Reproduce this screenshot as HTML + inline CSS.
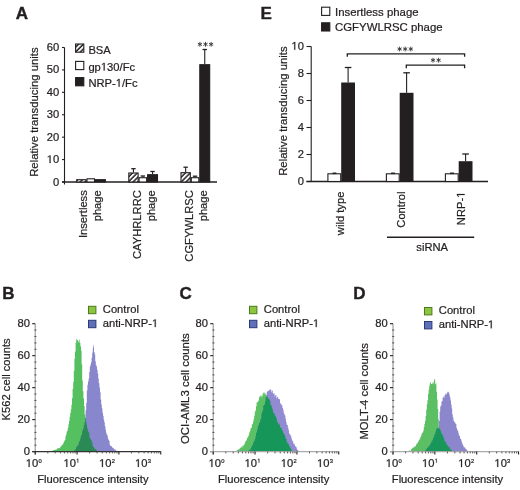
<!DOCTYPE html>
<html><head><meta charset="utf-8"><style>
html,body{margin:0;padding:0;background:#fff;}
svg{display:block;will-change:transform;}
text{font-family:"Liberation Sans",sans-serif;fill:#231f20;stroke:#231f20;stroke-width:0.22px;}
text[font-weight=bold]{stroke-width:0.4px;}
.o1{fill-opacity:0;stroke-opacity:0;}
</style></head><body>
<svg width="520" height="490" viewBox="0 0 520 490">
<defs>
<pattern id="hatch" patternUnits="userSpaceOnUse" width="3.4" height="3.4" patternTransform="rotate(45)">
<rect width="3.4" height="3.4" fill="#fff"/><rect x="1.08" width="1.5" height="3.4" fill="#231f20"/>
</pattern>
</defs>
<rect width="520" height="490" fill="#fff"/>
<text x="15.8" y="19" font-size="17" text-anchor="start" font-weight="bold">A</text>
<line x1="64.5" y1="47.5" x2="64.5" y2="184.5" stroke="#231f20" stroke-width="1.1"/>
<line x1="62" y1="182.0" x2="217" y2="182.0" stroke="#231f20" stroke-width="1.4"/>
<line x1="62" y1="182.0" x2="64.5" y2="182.0" stroke="#231f20" stroke-width="1.1"/>
<text x="59.2" y="185.5" font-size="11.2" text-anchor="end">0</text>
<line x1="62" y1="159.58333333333334" x2="64.5" y2="159.58333333333334" stroke="#231f20" stroke-width="1.1"/>
<text x="59.2" y="163.08333333333334" font-size="11.2" text-anchor="end" class="h1"><tspan class="o1">1</tspan>0</text>
<line x1="62" y1="137.16666666666666" x2="64.5" y2="137.16666666666666" stroke="#231f20" stroke-width="1.1"/>
<text x="59.2" y="140.66666666666666" font-size="11.2" text-anchor="end">20</text>
<line x1="62" y1="114.75" x2="64.5" y2="114.75" stroke="#231f20" stroke-width="1.1"/>
<text x="59.2" y="118.25" font-size="11.2" text-anchor="end">30</text>
<line x1="62" y1="92.33333333333333" x2="64.5" y2="92.33333333333333" stroke="#231f20" stroke-width="1.1"/>
<text x="59.2" y="95.83333333333333" font-size="11.2" text-anchor="end">40</text>
<line x1="62" y1="69.91666666666667" x2="64.5" y2="69.91666666666667" stroke="#231f20" stroke-width="1.1"/>
<text x="59.2" y="73.41666666666667" font-size="11.2" text-anchor="end">50</text>
<line x1="62" y1="47.5" x2="64.5" y2="47.5" stroke="#231f20" stroke-width="1.1"/>
<text x="59.2" y="51.0" font-size="11.2" text-anchor="end">60</text>
<text x="38" y="176.8" font-size="11.3" text-anchor="start" transform="rotate(-90 38 176.8)">Relative transducing units</text>
<rect x="75.6" y="44.0" width="8.2" height="8.2" fill="url(#hatch)" stroke="#231f20" stroke-width="1.1"/>
<rect x="75.6" y="61.4" width="8.2" height="8.2" fill="#fff" stroke="#231f20" stroke-width="1.1"/>
<rect x="75.6" y="77.6" width="8.2" height="8.2" fill="#231f20" stroke="#231f20" stroke-width="1.1"/>
<text x="88.4" y="53.8" font-size="11.2" text-anchor="start">BSA</text>
<text x="88.4" y="70.6" font-size="11.2" text-anchor="start" class="h1">gp<tspan class="o1">1</tspan>30/Fc</text>
<text x="88.4" y="86.7" font-size="11.2" text-anchor="start" class="h1">NRP-<tspan class="o1">1</tspan>/Fc</text>
<rect x="76.7" y="179.7" width="9.3" height="2.3000000000000114" fill="url(#hatch)" stroke="#231f20" stroke-width="1.1"/>
<rect x="87.0" y="178.8" width="7.5" height="3.1999999999999886" fill="#fff" stroke="#231f20" stroke-width="1.1"/>
<rect x="95.5" y="179.7" width="9.9" height="2.3000000000000114" fill="#231f20" stroke="#231f20" stroke-width="1.1"/>
<line x1="133.45000000000002" y1="168.7" x2="133.45000000000002" y2="172.5" stroke="#231f20" stroke-width="1.1"/>
<line x1="131.25000000000003" y1="168.7" x2="135.65" y2="168.7" stroke="#231f20" stroke-width="1.3"/>
<rect x="128.8" y="173.0" width="9.3" height="9.0" fill="url(#hatch)" stroke="#231f20" stroke-width="1.1"/>
<line x1="142.85000000000002" y1="176.0" x2="142.85000000000002" y2="177.2" stroke="#231f20" stroke-width="1.1"/>
<line x1="140.65000000000003" y1="176.0" x2="145.05" y2="176.0" stroke="#231f20" stroke-width="1.3"/>
<rect x="139.10000000000002" y="177.7" width="7.5" height="4.300000000000011" fill="#fff" stroke="#231f20" stroke-width="1.1"/>
<line x1="152.55" y1="171.5" x2="152.55" y2="174.2" stroke="#231f20" stroke-width="1.1"/>
<line x1="150.35000000000002" y1="171.5" x2="154.75" y2="171.5" stroke="#231f20" stroke-width="1.3"/>
<rect x="147.60000000000002" y="174.7" width="9.9" height="7.300000000000011" fill="#231f20" stroke="#231f20" stroke-width="1.1"/>
<line x1="185.65" y1="167.2" x2="185.65" y2="172.2" stroke="#231f20" stroke-width="1.1"/>
<line x1="183.45000000000002" y1="167.2" x2="187.85" y2="167.2" stroke="#231f20" stroke-width="1.3"/>
<rect x="181.0" y="172.7" width="9.3" height="9.300000000000011" fill="url(#hatch)" stroke="#231f20" stroke-width="1.1"/>
<line x1="195.05" y1="176.2" x2="195.05" y2="177.2" stroke="#231f20" stroke-width="1.1"/>
<line x1="192.85000000000002" y1="176.2" x2="197.25" y2="176.2" stroke="#231f20" stroke-width="1.3"/>
<rect x="191.3" y="177.7" width="7.5" height="4.300000000000011" fill="#fff" stroke="#231f20" stroke-width="1.1"/>
<line x1="204.75" y1="49.5" x2="204.75" y2="64.2" stroke="#231f20" stroke-width="1.1"/>
<line x1="202.55" y1="49.5" x2="206.95" y2="49.5" stroke="#231f20" stroke-width="1.3"/>
<rect x="199.8" y="64.7" width="9.9" height="117.3" fill="#231f20" stroke="#231f20" stroke-width="1.1"/>
<path d="M199.90 41.90V46.70M197.82 43.10L201.98 45.50M197.82 45.50L201.98 43.10M205.50 41.90V46.70M203.42 43.10L207.58 45.50M203.42 45.50L207.58 43.10M211.10 41.90V46.70M209.02 43.10L213.18 45.50M209.02 45.50L213.18 43.10" stroke="#3a3a3a" stroke-width="0.95" fill="none"/>
<text x="86.6" y="190.2" font-size="11.2" text-anchor="end" transform="rotate(-90 86.6 190.2)">Insertless</text>
<text x="100.8" y="190.2" font-size="11.2" text-anchor="end" transform="rotate(-90 100.8 190.2)">phage</text>
<text x="140.6" y="190.2" font-size="11.2" text-anchor="end" transform="rotate(-90 140.6 190.2)">CAYHRLRRC</text>
<text x="154.9" y="190.2" font-size="11.2" text-anchor="end" transform="rotate(-90 154.9 190.2)">phage</text>
<text x="192.6" y="190.2" font-size="11.2" text-anchor="end" transform="rotate(-90 192.6 190.2)">CGFYWLRSC</text>
<text x="207.4" y="190.2" font-size="11.2" text-anchor="end" transform="rotate(-90 207.4 190.2)">phage</text>
<text x="260.6" y="19" font-size="17" text-anchor="start" font-weight="bold">E</text>
<rect x="321.6" y="7.2" width="8.2" height="8.2" fill="#fff" stroke="#231f20" stroke-width="1.1"/>
<rect x="321.6" y="22.8" width="8.2" height="8.2" fill="#231f20" stroke="#231f20" stroke-width="1.1"/>
<text x="335" y="15.8" font-size="11.4" text-anchor="start">Insertless phage</text>
<text x="335" y="31.0" font-size="11.4" text-anchor="start">CGFYWLRSC phage</text>
<line x1="311.2" y1="46.5" x2="311.2" y2="181.5" stroke="#231f20" stroke-width="1.1"/>
<line x1="306.5" y1="181.5" x2="488" y2="181.5" stroke="#231f20" stroke-width="1.4"/>
<line x1="306.5" y1="181.5" x2="311.2" y2="181.5" stroke="#231f20" stroke-width="1.1"/>
<text x="303.9" y="184.8" font-size="11.2" text-anchor="end">0</text>
<line x1="306.5" y1="154.5" x2="311.2" y2="154.5" stroke="#231f20" stroke-width="1.1"/>
<text x="303.9" y="157.8" font-size="11.2" text-anchor="end">2</text>
<line x1="306.5" y1="127.5" x2="311.2" y2="127.5" stroke="#231f20" stroke-width="1.1"/>
<text x="303.9" y="130.8" font-size="11.2" text-anchor="end">4</text>
<line x1="306.5" y1="100.5" x2="311.2" y2="100.5" stroke="#231f20" stroke-width="1.1"/>
<text x="303.9" y="103.8" font-size="11.2" text-anchor="end">6</text>
<line x1="306.5" y1="73.5" x2="311.2" y2="73.5" stroke="#231f20" stroke-width="1.1"/>
<text x="303.9" y="76.8" font-size="11.2" text-anchor="end">8</text>
<line x1="306.5" y1="46.5" x2="311.2" y2="46.5" stroke="#231f20" stroke-width="1.1"/>
<text x="303.9" y="49.8" font-size="11.2" text-anchor="end" class="h1"><tspan class="o1">1</tspan>0</text>
<text x="286.7" y="175.8" font-size="11.3" text-anchor="start" transform="rotate(-90 286.7 175.8)">Relative transducing units</text>
<rect x="327.90000000000003" y="173.8" width="12.8" height="7.699999999999989" fill="#fff" stroke="#231f20" stroke-width="1.1"/>
<line x1="332.6" y1="173.3" x2="336.40000000000003" y2="173.3" stroke="#231f20" stroke-width="1.6"/>
<line x1="348.09999999999997" y1="67.5" x2="348.09999999999997" y2="82.5" stroke="#231f20" stroke-width="1.1"/>
<line x1="344.79999999999995" y1="67.5" x2="351.4" y2="67.5" stroke="#231f20" stroke-width="1.3"/>
<rect x="341.2" y="82.5" width="13.8" height="99.0" fill="#231f20"/>
<rect x="386.40000000000003" y="173.8" width="12.8" height="7.699999999999989" fill="#fff" stroke="#231f20" stroke-width="1.1"/>
<line x1="391.1" y1="173.3" x2="394.90000000000003" y2="173.3" stroke="#231f20" stroke-width="1.6"/>
<line x1="406.59999999999997" y1="72.8" x2="406.59999999999997" y2="92.8" stroke="#231f20" stroke-width="1.1"/>
<line x1="403.29999999999995" y1="72.8" x2="409.9" y2="72.8" stroke="#231f20" stroke-width="1.3"/>
<rect x="399.7" y="92.8" width="13.8" height="88.7" fill="#231f20"/>
<rect x="445.40000000000003" y="173.8" width="12.8" height="7.699999999999989" fill="#fff" stroke="#231f20" stroke-width="1.1"/>
<line x1="450.1" y1="173.3" x2="453.90000000000003" y2="173.3" stroke="#231f20" stroke-width="1.6"/>
<line x1="465.59999999999997" y1="154.0" x2="465.59999999999997" y2="161.2" stroke="#231f20" stroke-width="1.1"/>
<line x1="462.29999999999995" y1="154.0" x2="468.9" y2="154.0" stroke="#231f20" stroke-width="1.3"/>
<rect x="458.7" y="161.2" width="13.8" height="20.30000000000001" fill="#231f20"/>
<path d="M347.3 56.8 V53.8 H464.6 V56.8" fill="none" stroke="#231f20" stroke-width="1.3"/>
<path d="M406.3 68.2 V65.2 H464.6 V68.2" fill="none" stroke="#231f20" stroke-width="1.3"/>
<path d="M399.60 46.60V51.40M397.52 47.80L401.68 50.20M397.52 50.20L401.68 47.80M405.20 46.60V51.40M403.12 47.80L407.28 50.20M403.12 50.20L407.28 47.80M410.80 46.60V51.40M408.72 47.80L412.88 50.20M408.72 50.20L412.88 47.80" stroke="#3a3a3a" stroke-width="0.95" fill="none"/>
<path d="M433.00 57.80V62.60M430.92 59.00L435.08 61.40M430.92 61.40L435.08 59.00M438.60 57.80V62.60M436.52 59.00L440.68 61.40M436.52 61.40L440.68 59.00" stroke="#3a3a3a" stroke-width="0.95" fill="none"/>
<text x="344.2" y="191.6" font-size="11.2" text-anchor="end" transform="rotate(-90 344.2 191.6)">wild type</text>
<text x="404.6" y="191.6" font-size="11.2" text-anchor="end" transform="rotate(-90 404.6 191.6)">Control</text>
<text x="464.6" y="191.6" font-size="11.2" text-anchor="end" transform="rotate(-90 464.6 191.6)" class="h1">NRP-<tspan class="o1">1</tspan></text>
<line x1="387" y1="237.2" x2="474.2" y2="237.2" stroke="#231f20" stroke-width="1.4"/>
<text x="416.3" y="250.5" font-size="11.2" text-anchor="start">siRNA</text>
<text x="2.2" y="299.2" font-size="17" text-anchor="start" font-weight="bold">B</text>
<line x1="35.2" y1="323.7" x2="35.2" y2="454.6" stroke="#8a8a8a" stroke-width="1"/>
<line x1="32.2" y1="451.6" x2="35.2" y2="451.6" stroke="#231f20" stroke-width="1.1"/>
<text x="30.000000000000004" y="455.0" font-size="11.2" text-anchor="end">0</text>
<line x1="32.2" y1="419.625" x2="35.2" y2="419.625" stroke="#231f20" stroke-width="1.1"/>
<text x="30.000000000000004" y="423.025" font-size="11.2" text-anchor="end">20</text>
<line x1="32.2" y1="387.65" x2="35.2" y2="387.65" stroke="#231f20" stroke-width="1.1"/>
<text x="30.000000000000004" y="391.04999999999995" font-size="11.2" text-anchor="end">40</text>
<line x1="32.2" y1="355.675" x2="35.2" y2="355.675" stroke="#231f20" stroke-width="1.1"/>
<text x="30.000000000000004" y="359.075" font-size="11.2" text-anchor="end">60</text>
<line x1="32.2" y1="323.7" x2="35.2" y2="323.7" stroke="#231f20" stroke-width="1.1"/>
<text x="30.000000000000004" y="327.09999999999997" font-size="11.2" text-anchor="end">80</text>
<line x1="34.400000000000006" y1="445.20500000000004" x2="36.400000000000006" y2="445.20500000000004" stroke="#555" stroke-width="1.1"/>
<line x1="34.400000000000006" y1="438.81" x2="36.400000000000006" y2="438.81" stroke="#555" stroke-width="1.1"/>
<line x1="34.400000000000006" y1="432.415" x2="36.400000000000006" y2="432.415" stroke="#555" stroke-width="1.1"/>
<line x1="34.400000000000006" y1="426.02000000000004" x2="36.400000000000006" y2="426.02000000000004" stroke="#555" stroke-width="1.1"/>
<line x1="34.400000000000006" y1="413.23" x2="36.400000000000006" y2="413.23" stroke="#555" stroke-width="1.1"/>
<line x1="34.400000000000006" y1="406.83500000000004" x2="36.400000000000006" y2="406.83500000000004" stroke="#555" stroke-width="1.1"/>
<line x1="34.400000000000006" y1="400.44" x2="36.400000000000006" y2="400.44" stroke="#555" stroke-width="1.1"/>
<line x1="34.400000000000006" y1="394.045" x2="36.400000000000006" y2="394.045" stroke="#555" stroke-width="1.1"/>
<line x1="34.400000000000006" y1="381.255" x2="36.400000000000006" y2="381.255" stroke="#555" stroke-width="1.1"/>
<line x1="34.400000000000006" y1="374.86" x2="36.400000000000006" y2="374.86" stroke="#555" stroke-width="1.1"/>
<line x1="34.400000000000006" y1="368.46500000000003" x2="36.400000000000006" y2="368.46500000000003" stroke="#555" stroke-width="1.1"/>
<line x1="34.400000000000006" y1="362.07" x2="36.400000000000006" y2="362.07" stroke="#555" stroke-width="1.1"/>
<line x1="34.400000000000006" y1="349.28" x2="36.400000000000006" y2="349.28" stroke="#555" stroke-width="1.1"/>
<line x1="34.400000000000006" y1="342.885" x2="36.400000000000006" y2="342.885" stroke="#555" stroke-width="1.1"/>
<line x1="34.400000000000006" y1="336.49" x2="36.400000000000006" y2="336.49" stroke="#555" stroke-width="1.1"/>
<line x1="34.400000000000006" y1="330.095" x2="36.400000000000006" y2="330.095" stroke="#555" stroke-width="1.1"/>
<clipPath id="clipB"><path d="M73.00 451.60 L73.00 451.36 L73.60 451.36 L73.60 450.79 L74.20 450.79 L74.20 450.30 L74.80 450.30 L74.80 449.70 L75.40 449.70 L75.40 449.30 L76.00 449.30 L76.00 447.39 L76.60 447.39 L76.60 446.46 L77.20 446.46 L77.20 445.60 L77.80 445.60 L77.80 445.68 L78.40 445.68 L78.40 443.58 L79.00 443.58 L79.00 441.27 L79.60 441.27 L79.60 441.35 L80.20 441.35 L80.20 438.45 L80.80 438.45 L80.80 435.62 L81.40 435.62 L81.40 435.31 L82.00 435.31 L82.00 431.43 L82.60 431.43 L82.60 429.88 L83.20 429.88 L83.20 428.13 L83.80 428.13 L83.80 425.30 L84.40 425.30 L84.40 422.58 L85.00 422.58 L85.00 418.38 L85.60 418.38 L85.60 410.35 L86.20 410.35 L86.20 403.09 L86.80 403.09 L86.80 390.59 L87.40 390.59 L87.40 384.85 L88.00 384.85 L88.00 381.46 L88.60 381.46 L88.60 378.62 L89.20 378.62 L89.20 372.10 L89.80 372.10 L89.80 366.63 L90.40 366.63 L90.40 364.40 L91.00 364.40 L91.00 362.18 L91.60 362.18 L91.60 357.74 L92.20 357.74 L92.20 352.77 L92.80 352.77 L92.80 347.67 L93.40 347.67 L93.40 345.34 L94.00 345.34 L94.00 352.03 L94.60 352.03 L94.60 354.24 L95.20 354.24 L95.20 361.15 L95.80 361.15 L95.80 364.98 L96.40 364.98 L96.40 366.48 L97.00 366.48 L97.00 369.85 L97.60 369.85 L97.60 373.58 L98.20 373.58 L98.20 378.38 L98.80 378.38 L98.80 383.14 L99.40 383.14 L99.40 387.56 L100.00 387.56 L100.00 392.27 L100.60 392.27 L100.60 399.42 L101.20 399.42 L101.20 404.61 L101.80 404.61 L101.80 408.18 L102.40 408.18 L102.40 412.75 L103.00 412.75 L103.00 415.84 L103.60 415.84 L103.60 419.56 L104.20 419.56 L104.20 422.30 L104.80 422.30 L104.80 425.97 L105.40 425.97 L105.40 429.69 L106.00 429.69 L106.00 432.68 L106.60 432.68 L106.60 434.52 L107.20 434.52 L107.20 435.80 L107.80 435.80 L107.80 438.61 L108.40 438.61 L108.40 440.04 L109.00 440.04 L109.00 441.00 L109.60 441.00 L109.60 444.84 L110.20 444.84 L110.20 445.67 L110.80 445.67 L110.80 446.00 L111.40 446.00 L111.40 446.54 L112.00 446.54 L112.00 447.21 L112.60 447.21 L112.60 448.05 L113.20 448.05 L113.20 448.29 L113.80 448.29 L113.80 449.02 L114.40 449.02 L114.40 449.83 L115.00 449.83 L115.00 449.59 L115.60 449.59 L115.60 450.29 L116.20 450.29 L116.20 450.70 L116.80 450.70 L116.80 450.86 L117.40 450.86 L117.40 451.11 L118.00 451.11 L118.00 451.32 L118.60 451.32 L118.60 451.52 L119.00 451.52 L119.00 451.60 Z"/></clipPath>
<path d="M48.00 451.60 L48.00 451.54 L48.60 451.54 L48.60 451.42 L49.20 451.42 L49.20 451.33 L49.80 451.33 L49.80 451.12 L50.40 451.12 L50.40 451.09 L51.00 451.09 L51.00 450.97 L51.60 450.97 L51.60 450.93 L52.20 450.93 L52.20 450.66 L52.80 450.66 L52.80 450.26 L53.40 450.26 L53.40 450.24 L54.00 450.24 L54.00 449.95 L54.60 449.95 L54.60 449.97 L55.20 449.97 L55.20 449.65 L55.80 449.65 L55.80 449.40 L56.40 449.40 L56.40 449.62 L57.00 449.62 L57.00 448.59 L57.60 448.59 L57.60 448.39 L58.20 448.39 L58.20 448.09 L58.80 448.09 L58.80 448.50 L59.40 448.50 L59.40 448.04 L60.00 448.04 L60.00 447.23 L60.60 447.23 L60.60 446.56 L61.20 446.56 L61.20 445.73 L61.80 445.73 L61.80 445.36 L62.40 445.36 L62.40 444.35 L63.00 444.35 L63.00 443.73 L63.60 443.73 L63.60 442.03 L64.20 442.03 L64.20 440.77 L64.80 440.77 L64.80 440.01 L65.40 440.01 L65.40 436.30 L66.00 436.30 L66.00 434.39 L66.60 434.39 L66.60 431.50 L67.20 431.50 L67.20 430.52 L67.80 430.52 L67.80 427.66 L68.40 427.66 L68.40 424.33 L69.00 424.33 L69.00 421.11 L69.60 421.11 L69.60 416.67 L70.20 416.67 L70.20 413.06 L70.80 413.06 L70.80 409.62 L71.40 409.62 L71.40 404.83 L72.00 404.83 L72.00 398.19 L72.60 398.19 L72.60 389.10 L73.20 389.10 L73.20 381.95 L73.80 381.95 L73.80 370.67 L74.40 370.67 L74.40 358.70 L75.00 358.70 L75.00 351.41 L75.60 351.41 L75.60 342.88 L76.20 342.88 L76.20 338.68 L76.80 338.68 L76.80 339.90 L77.40 339.90 L77.40 340.20 L78.00 340.20 L78.00 340.88 L78.60 340.88 L78.60 342.50 L79.20 342.50 L79.20 339.56 L79.80 339.56 L79.80 343.08 L80.40 343.08 L80.40 346.50 L81.00 346.50 L81.00 350.45 L81.60 350.45 L81.60 364.35 L82.20 364.35 L82.20 380.60 L82.80 380.60 L82.80 391.32 L83.40 391.32 L83.40 398.42 L84.00 398.42 L84.00 406.11 L84.60 406.11 L84.60 414.45 L85.20 414.45 L85.20 417.82 L85.80 417.82 L85.80 421.84 L86.40 421.84 L86.40 424.43 L87.00 424.43 L87.00 427.90 L87.60 427.90 L87.60 430.36 L88.20 430.36 L88.20 432.09 L88.80 432.09 L88.80 432.77 L89.40 432.77 L89.40 437.13 L90.00 437.13 L90.00 438.65 L90.60 438.65 L90.60 439.52 L91.20 439.52 L91.20 440.46 L91.80 440.46 L91.80 442.53 L92.40 442.53 L92.40 445.31 L93.00 445.31 L93.00 447.01 L93.60 447.01 L93.60 447.35 L94.20 447.35 L94.20 448.58 L94.80 448.58 L94.80 449.20 L95.40 449.20 L95.40 449.12 L96.00 449.12 L96.00 449.64 L96.60 449.64 L96.60 450.38 L97.20 450.38 L97.20 450.64 L97.80 450.64 L97.80 450.84 L98.40 450.84 L98.40 450.93 L99.00 450.93 L99.00 451.34 L99.60 451.34 L99.60 451.53 L100.00 451.53 L100.00 451.60 Z" fill="#55c060"/>
<path d="M73.00 451.60 L73.00 451.36 L73.60 451.36 L73.60 450.79 L74.20 450.79 L74.20 450.30 L74.80 450.30 L74.80 449.70 L75.40 449.70 L75.40 449.30 L76.00 449.30 L76.00 447.39 L76.60 447.39 L76.60 446.46 L77.20 446.46 L77.20 445.60 L77.80 445.60 L77.80 445.68 L78.40 445.68 L78.40 443.58 L79.00 443.58 L79.00 441.27 L79.60 441.27 L79.60 441.35 L80.20 441.35 L80.20 438.45 L80.80 438.45 L80.80 435.62 L81.40 435.62 L81.40 435.31 L82.00 435.31 L82.00 431.43 L82.60 431.43 L82.60 429.88 L83.20 429.88 L83.20 428.13 L83.80 428.13 L83.80 425.30 L84.40 425.30 L84.40 422.58 L85.00 422.58 L85.00 418.38 L85.60 418.38 L85.60 410.35 L86.20 410.35 L86.20 403.09 L86.80 403.09 L86.80 390.59 L87.40 390.59 L87.40 384.85 L88.00 384.85 L88.00 381.46 L88.60 381.46 L88.60 378.62 L89.20 378.62 L89.20 372.10 L89.80 372.10 L89.80 366.63 L90.40 366.63 L90.40 364.40 L91.00 364.40 L91.00 362.18 L91.60 362.18 L91.60 357.74 L92.20 357.74 L92.20 352.77 L92.80 352.77 L92.80 347.67 L93.40 347.67 L93.40 345.34 L94.00 345.34 L94.00 352.03 L94.60 352.03 L94.60 354.24 L95.20 354.24 L95.20 361.15 L95.80 361.15 L95.80 364.98 L96.40 364.98 L96.40 366.48 L97.00 366.48 L97.00 369.85 L97.60 369.85 L97.60 373.58 L98.20 373.58 L98.20 378.38 L98.80 378.38 L98.80 383.14 L99.40 383.14 L99.40 387.56 L100.00 387.56 L100.00 392.27 L100.60 392.27 L100.60 399.42 L101.20 399.42 L101.20 404.61 L101.80 404.61 L101.80 408.18 L102.40 408.18 L102.40 412.75 L103.00 412.75 L103.00 415.84 L103.60 415.84 L103.60 419.56 L104.20 419.56 L104.20 422.30 L104.80 422.30 L104.80 425.97 L105.40 425.97 L105.40 429.69 L106.00 429.69 L106.00 432.68 L106.60 432.68 L106.60 434.52 L107.20 434.52 L107.20 435.80 L107.80 435.80 L107.80 438.61 L108.40 438.61 L108.40 440.04 L109.00 440.04 L109.00 441.00 L109.60 441.00 L109.60 444.84 L110.20 444.84 L110.20 445.67 L110.80 445.67 L110.80 446.00 L111.40 446.00 L111.40 446.54 L112.00 446.54 L112.00 447.21 L112.60 447.21 L112.60 448.05 L113.20 448.05 L113.20 448.29 L113.80 448.29 L113.80 449.02 L114.40 449.02 L114.40 449.83 L115.00 449.83 L115.00 449.59 L115.60 449.59 L115.60 450.29 L116.20 450.29 L116.20 450.70 L116.80 450.70 L116.80 450.86 L117.40 450.86 L117.40 451.11 L118.00 451.11 L118.00 451.32 L118.60 451.32 L118.60 451.52 L119.00 451.52 L119.00 451.60 Z" fill="#8886cc"/>
<path d="M48.00 451.60 L48.00 451.54 L48.60 451.54 L48.60 451.42 L49.20 451.42 L49.20 451.33 L49.80 451.33 L49.80 451.12 L50.40 451.12 L50.40 451.09 L51.00 451.09 L51.00 450.97 L51.60 450.97 L51.60 450.93 L52.20 450.93 L52.20 450.66 L52.80 450.66 L52.80 450.26 L53.40 450.26 L53.40 450.24 L54.00 450.24 L54.00 449.95 L54.60 449.95 L54.60 449.97 L55.20 449.97 L55.20 449.65 L55.80 449.65 L55.80 449.40 L56.40 449.40 L56.40 449.62 L57.00 449.62 L57.00 448.59 L57.60 448.59 L57.60 448.39 L58.20 448.39 L58.20 448.09 L58.80 448.09 L58.80 448.50 L59.40 448.50 L59.40 448.04 L60.00 448.04 L60.00 447.23 L60.60 447.23 L60.60 446.56 L61.20 446.56 L61.20 445.73 L61.80 445.73 L61.80 445.36 L62.40 445.36 L62.40 444.35 L63.00 444.35 L63.00 443.73 L63.60 443.73 L63.60 442.03 L64.20 442.03 L64.20 440.77 L64.80 440.77 L64.80 440.01 L65.40 440.01 L65.40 436.30 L66.00 436.30 L66.00 434.39 L66.60 434.39 L66.60 431.50 L67.20 431.50 L67.20 430.52 L67.80 430.52 L67.80 427.66 L68.40 427.66 L68.40 424.33 L69.00 424.33 L69.00 421.11 L69.60 421.11 L69.60 416.67 L70.20 416.67 L70.20 413.06 L70.80 413.06 L70.80 409.62 L71.40 409.62 L71.40 404.83 L72.00 404.83 L72.00 398.19 L72.60 398.19 L72.60 389.10 L73.20 389.10 L73.20 381.95 L73.80 381.95 L73.80 370.67 L74.40 370.67 L74.40 358.70 L75.00 358.70 L75.00 351.41 L75.60 351.41 L75.60 342.88 L76.20 342.88 L76.20 338.68 L76.80 338.68 L76.80 339.90 L77.40 339.90 L77.40 340.20 L78.00 340.20 L78.00 340.88 L78.60 340.88 L78.60 342.50 L79.20 342.50 L79.20 339.56 L79.80 339.56 L79.80 343.08 L80.40 343.08 L80.40 346.50 L81.00 346.50 L81.00 350.45 L81.60 350.45 L81.60 364.35 L82.20 364.35 L82.20 380.60 L82.80 380.60 L82.80 391.32 L83.40 391.32 L83.40 398.42 L84.00 398.42 L84.00 406.11 L84.60 406.11 L84.60 414.45 L85.20 414.45 L85.20 417.82 L85.80 417.82 L85.80 421.84 L86.40 421.84 L86.40 424.43 L87.00 424.43 L87.00 427.90 L87.60 427.90 L87.60 430.36 L88.20 430.36 L88.20 432.09 L88.80 432.09 L88.80 432.77 L89.40 432.77 L89.40 437.13 L90.00 437.13 L90.00 438.65 L90.60 438.65 L90.60 439.52 L91.20 439.52 L91.20 440.46 L91.80 440.46 L91.80 442.53 L92.40 442.53 L92.40 445.31 L93.00 445.31 L93.00 447.01 L93.60 447.01 L93.60 447.35 L94.20 447.35 L94.20 448.58 L94.80 448.58 L94.80 449.20 L95.40 449.20 L95.40 449.12 L96.00 449.12 L96.00 449.64 L96.60 449.64 L96.60 450.38 L97.20 450.38 L97.20 450.64 L97.80 450.64 L97.80 450.84 L98.40 450.84 L98.40 450.93 L99.00 450.93 L99.00 451.34 L99.60 451.34 L99.60 451.53 L100.00 451.53 L100.00 451.60 Z" fill="#2a8a56" clip-path="url(#clipB)"/>
<line x1="32.2" y1="451.6" x2="160.75" y2="451.6" stroke="#333" stroke-width="1.1"/>
<line x1="35.2" y1="451.6" x2="35.2" y2="454.6" stroke="#231f20" stroke-width="1.1"/>
<line x1="47.798105318537615" y1="451.6" x2="47.798105318537615" y2="453.40000000000003" stroke="#555" stroke-width="1"/>
<line x1="55.16752451001788" y1="451.6" x2="55.16752451001788" y2="453.40000000000003" stroke="#555" stroke-width="1"/>
<line x1="60.39621063707523" y1="451.6" x2="60.39621063707523" y2="453.40000000000003" stroke="#555" stroke-width="1"/>
<line x1="64.45189468146239" y1="451.6" x2="64.45189468146239" y2="453.40000000000003" stroke="#555" stroke-width="1"/>
<line x1="67.76562982855549" y1="451.6" x2="67.76562982855549" y2="453.40000000000003" stroke="#555" stroke-width="1"/>
<line x1="70.56735297459664" y1="451.6" x2="70.56735297459664" y2="453.40000000000003" stroke="#555" stroke-width="1"/>
<line x1="72.99431595561285" y1="451.6" x2="72.99431595561285" y2="453.40000000000003" stroke="#555" stroke-width="1"/>
<line x1="75.13504902003575" y1="451.6" x2="75.13504902003575" y2="453.40000000000003" stroke="#555" stroke-width="1"/>
<line x1="77.05000000000001" y1="451.6" x2="77.05000000000001" y2="454.6" stroke="#231f20" stroke-width="1.1"/>
<line x1="89.64810531853763" y1="451.6" x2="89.64810531853763" y2="453.40000000000003" stroke="#555" stroke-width="1"/>
<line x1="97.01752451001789" y1="451.6" x2="97.01752451001789" y2="453.40000000000003" stroke="#555" stroke-width="1"/>
<line x1="102.24621063707524" y1="451.6" x2="102.24621063707524" y2="453.40000000000003" stroke="#555" stroke-width="1"/>
<line x1="106.3018946814624" y1="451.6" x2="106.3018946814624" y2="453.40000000000003" stroke="#555" stroke-width="1"/>
<line x1="109.6156298285555" y1="451.6" x2="109.6156298285555" y2="453.40000000000003" stroke="#555" stroke-width="1"/>
<line x1="112.41735297459667" y1="451.6" x2="112.41735297459667" y2="453.40000000000003" stroke="#555" stroke-width="1"/>
<line x1="114.84431595561284" y1="451.6" x2="114.84431595561284" y2="453.40000000000003" stroke="#555" stroke-width="1"/>
<line x1="116.98504902003576" y1="451.6" x2="116.98504902003576" y2="453.40000000000003" stroke="#555" stroke-width="1"/>
<line x1="118.9" y1="451.6" x2="118.9" y2="454.6" stroke="#231f20" stroke-width="1.1"/>
<line x1="131.49810531853763" y1="451.6" x2="131.49810531853763" y2="453.40000000000003" stroke="#555" stroke-width="1"/>
<line x1="138.8675245100179" y1="451.6" x2="138.8675245100179" y2="453.40000000000003" stroke="#555" stroke-width="1"/>
<line x1="144.09621063707525" y1="451.6" x2="144.09621063707525" y2="453.40000000000003" stroke="#555" stroke-width="1"/>
<line x1="148.1518946814624" y1="451.6" x2="148.1518946814624" y2="453.40000000000003" stroke="#555" stroke-width="1"/>
<line x1="151.4656298285555" y1="451.6" x2="151.4656298285555" y2="453.40000000000003" stroke="#555" stroke-width="1"/>
<line x1="154.26735297459666" y1="451.6" x2="154.26735297459666" y2="453.40000000000003" stroke="#555" stroke-width="1"/>
<line x1="156.69431595561284" y1="451.6" x2="156.69431595561284" y2="453.40000000000003" stroke="#555" stroke-width="1"/>
<line x1="158.83504902003574" y1="451.6" x2="158.83504902003574" y2="453.40000000000003" stroke="#555" stroke-width="1"/>
<line x1="160.75" y1="451.6" x2="160.75" y2="454.6" stroke="#231f20" stroke-width="1.1"/>
<text x="25.8" y="467" font-size="11.2" text-anchor="start" class="h1"><tspan class="o1">1</tspan>0</text>
<text x="38.5" y="462.7" font-size="5.8" text-anchor="start">0</text>
<text x="63.5" y="467" font-size="11.2" text-anchor="start" class="h1"><tspan class="o1">1</tspan>0</text>
<text x="76.2" y="462.7" font-size="5.8" text-anchor="start" class="h1"><tspan class="o1">1</tspan></text>
<text x="99.10000000000001" y="467" font-size="11.2" text-anchor="start" class="h1"><tspan class="o1">1</tspan>0</text>
<text x="111.80000000000001" y="462.7" font-size="5.8" text-anchor="start">2</text>
<text x="135.0" y="467" font-size="11.2" text-anchor="start" class="h1"><tspan class="o1">1</tspan>0</text>
<text x="147.70000000000002" y="462.7" font-size="5.8" text-anchor="start">3</text>
<text x="37.2" y="482.9" font-size="11.2" text-anchor="start">Fluorescence intensity</text>
<text x="9.9" y="420.4" font-size="11.2" text-anchor="start" transform="rotate(-90 9.9 420.4)">K562 cell counts</text>
<rect x="88.5" y="306.3" width="7.4" height="7.4" fill="#8cc63f" stroke="#4b7a22" stroke-width="1"/>
<rect x="88.5" y="320.3" width="7.4" height="7.4" fill="#5e70b8" stroke="#2c3a78" stroke-width="1"/>
<text x="102.8" y="313.1" font-size="11.2" text-anchor="start">Control</text>
<text x="102.8" y="327.1" font-size="11.2" text-anchor="start" class="h1">anti-NRP-<tspan class="o1">1</tspan></text>
<text x="179.6" y="299.3" font-size="17" text-anchor="start" font-weight="bold">C</text>
<line x1="213.2" y1="323.7" x2="213.2" y2="454.6" stroke="#8a8a8a" stroke-width="1"/>
<line x1="210.2" y1="451.6" x2="213.2" y2="451.6" stroke="#231f20" stroke-width="1.1"/>
<text x="208.0" y="455.0" font-size="11.2" text-anchor="end">0</text>
<line x1="210.2" y1="419.625" x2="213.2" y2="419.625" stroke="#231f20" stroke-width="1.1"/>
<text x="208.0" y="423.025" font-size="11.2" text-anchor="end">20</text>
<line x1="210.2" y1="387.65" x2="213.2" y2="387.65" stroke="#231f20" stroke-width="1.1"/>
<text x="208.0" y="391.04999999999995" font-size="11.2" text-anchor="end">40</text>
<line x1="210.2" y1="355.675" x2="213.2" y2="355.675" stroke="#231f20" stroke-width="1.1"/>
<text x="208.0" y="359.075" font-size="11.2" text-anchor="end">60</text>
<line x1="210.2" y1="323.7" x2="213.2" y2="323.7" stroke="#231f20" stroke-width="1.1"/>
<text x="208.0" y="327.09999999999997" font-size="11.2" text-anchor="end">80</text>
<line x1="212.39999999999998" y1="445.20500000000004" x2="214.39999999999998" y2="445.20500000000004" stroke="#555" stroke-width="1.1"/>
<line x1="212.39999999999998" y1="438.81" x2="214.39999999999998" y2="438.81" stroke="#555" stroke-width="1.1"/>
<line x1="212.39999999999998" y1="432.415" x2="214.39999999999998" y2="432.415" stroke="#555" stroke-width="1.1"/>
<line x1="212.39999999999998" y1="426.02000000000004" x2="214.39999999999998" y2="426.02000000000004" stroke="#555" stroke-width="1.1"/>
<line x1="212.39999999999998" y1="413.23" x2="214.39999999999998" y2="413.23" stroke="#555" stroke-width="1.1"/>
<line x1="212.39999999999998" y1="406.83500000000004" x2="214.39999999999998" y2="406.83500000000004" stroke="#555" stroke-width="1.1"/>
<line x1="212.39999999999998" y1="400.44" x2="214.39999999999998" y2="400.44" stroke="#555" stroke-width="1.1"/>
<line x1="212.39999999999998" y1="394.045" x2="214.39999999999998" y2="394.045" stroke="#555" stroke-width="1.1"/>
<line x1="212.39999999999998" y1="381.255" x2="214.39999999999998" y2="381.255" stroke="#555" stroke-width="1.1"/>
<line x1="212.39999999999998" y1="374.86" x2="214.39999999999998" y2="374.86" stroke="#555" stroke-width="1.1"/>
<line x1="212.39999999999998" y1="368.46500000000003" x2="214.39999999999998" y2="368.46500000000003" stroke="#555" stroke-width="1.1"/>
<line x1="212.39999999999998" y1="362.07" x2="214.39999999999998" y2="362.07" stroke="#555" stroke-width="1.1"/>
<line x1="212.39999999999998" y1="349.28" x2="214.39999999999998" y2="349.28" stroke="#555" stroke-width="1.1"/>
<line x1="212.39999999999998" y1="342.885" x2="214.39999999999998" y2="342.885" stroke="#555" stroke-width="1.1"/>
<line x1="212.39999999999998" y1="336.49" x2="214.39999999999998" y2="336.49" stroke="#555" stroke-width="1.1"/>
<line x1="212.39999999999998" y1="330.095" x2="214.39999999999998" y2="330.095" stroke="#555" stroke-width="1.1"/>
<clipPath id="clipC"><path d="M244.00 452.00 L244.00 451.93 L244.60 451.93 L244.60 451.79 L245.20 451.79 L245.20 451.46 L245.80 451.46 L245.80 451.50 L246.40 451.50 L246.40 451.29 L247.00 451.29 L247.00 450.98 L247.60 450.98 L247.60 450.89 L248.20 450.89 L248.20 450.82 L248.80 450.82 L248.80 450.38 L249.40 450.38 L249.40 449.59 L250.00 449.59 L250.00 449.63 L250.60 449.63 L250.60 448.58 L251.20 448.58 L251.20 447.01 L251.80 447.01 L251.80 445.86 L252.40 445.86 L252.40 445.00 L253.00 445.00 L253.00 442.91 L253.60 442.91 L253.60 441.57 L254.20 441.57 L254.20 440.74 L254.80 440.74 L254.80 439.05 L255.40 439.05 L255.40 436.46 L256.00 436.46 L256.00 433.04 L256.60 433.04 L256.60 431.71 L257.20 431.71 L257.20 429.29 L257.80 429.29 L257.80 426.21 L258.40 426.21 L258.40 425.37 L259.00 425.37 L259.00 422.72 L259.60 422.72 L259.60 422.48 L260.20 422.48 L260.20 419.63 L260.80 419.63 L260.80 418.60 L261.40 418.60 L261.40 413.64 L262.00 413.64 L262.00 411.74 L262.60 411.74 L262.60 410.27 L263.20 410.27 L263.20 405.79 L263.80 405.79 L263.80 405.01 L264.40 405.01 L264.40 404.27 L265.00 404.27 L265.00 401.80 L265.60 401.80 L265.60 397.46 L266.20 397.46 L266.20 395.24 L266.80 395.24 L266.80 391.84 L267.40 391.84 L267.40 391.31 L268.00 391.31 L268.00 390.78 L268.60 390.78 L268.60 390.74 L269.20 390.74 L269.20 389.85 L269.80 389.85 L269.80 389.40 L270.40 389.40 L270.40 389.49 L271.00 389.49 L271.00 392.13 L271.60 392.13 L271.60 390.03 L272.20 390.03 L272.20 390.77 L272.80 390.77 L272.80 392.88 L273.40 392.88 L273.40 393.91 L274.00 393.91 L274.00 393.17 L274.60 393.17 L274.60 396.47 L275.20 396.47 L275.20 394.92 L275.80 394.92 L275.80 395.32 L276.40 395.32 L276.40 398.13 L277.00 398.13 L277.00 396.66 L277.60 396.66 L277.60 397.32 L278.20 397.32 L278.20 399.05 L278.80 399.05 L278.80 398.82 L279.40 398.82 L279.40 399.60 L280.00 399.60 L280.00 403.15 L280.60 403.15 L280.60 403.61 L281.20 403.61 L281.20 404.64 L281.80 404.64 L281.80 405.60 L282.40 405.60 L282.40 408.04 L283.00 408.04 L283.00 409.73 L283.60 409.73 L283.60 412.76 L284.20 412.76 L284.20 414.40 L284.80 414.40 L284.80 415.50 L285.40 415.50 L285.40 418.69 L286.00 418.69 L286.00 422.05 L286.60 422.05 L286.60 424.41 L287.20 424.41 L287.20 425.10 L287.80 425.10 L287.80 427.50 L288.40 427.50 L288.40 430.04 L289.00 430.04 L289.00 433.89 L289.60 433.89 L289.60 433.53 L290.20 433.53 L290.20 435.37 L290.80 435.37 L290.80 436.53 L291.40 436.53 L291.40 438.87 L292.00 438.87 L292.00 440.58 L292.60 440.58 L292.60 441.32 L293.20 441.32 L293.20 443.77 L293.80 443.77 L293.80 443.25 L294.40 443.25 L294.40 444.70 L295.00 444.70 L295.00 446.25 L295.60 446.25 L295.60 446.49 L296.20 446.49 L296.20 447.46 L296.80 447.46 L296.80 449.55 L297.40 449.55 L297.40 450.02 L298.00 450.02 L298.00 450.50 L298.60 450.50 L298.60 451.25 L299.20 451.25 L299.20 451.82 L299.50 451.82 L299.50 452.00 Z"/></clipPath>
<path d="M232.00 452.00 L232.00 451.93 L232.60 451.93 L232.60 451.77 L233.20 451.77 L233.20 451.63 L233.80 451.63 L233.80 451.83 L234.40 451.83 L234.40 451.40 L235.00 451.40 L235.00 451.01 L235.60 451.01 L235.60 451.23 L236.20 451.23 L236.20 450.76 L236.80 450.76 L236.80 450.24 L237.40 450.24 L237.40 449.94 L238.00 449.94 L238.00 449.35 L238.60 449.35 L238.60 449.76 L239.20 449.76 L239.20 448.86 L239.80 448.86 L239.80 448.37 L240.40 448.37 L240.40 447.50 L241.00 447.50 L241.00 446.78 L241.60 446.78 L241.60 447.79 L242.20 447.79 L242.20 445.67 L242.80 445.67 L242.80 446.28 L243.40 446.28 L243.40 444.76 L244.00 444.76 L244.00 444.86 L244.60 444.86 L244.60 442.94 L245.20 442.94 L245.20 441.28 L245.80 441.28 L245.80 440.98 L246.40 440.98 L246.40 439.67 L247.00 439.67 L247.00 438.02 L247.60 438.02 L247.60 437.19 L248.20 437.19 L248.20 436.11 L248.80 436.11 L248.80 433.74 L249.40 433.74 L249.40 431.67 L250.00 431.67 L250.00 430.60 L250.60 430.60 L250.60 427.71 L251.20 427.71 L251.20 427.98 L251.80 427.98 L251.80 424.43 L252.40 424.43 L252.40 423.69 L253.00 423.69 L253.00 421.43 L253.60 421.43 L253.60 418.72 L254.20 418.72 L254.20 415.87 L254.80 415.87 L254.80 411.78 L255.40 411.78 L255.40 410.17 L256.00 410.17 L256.00 406.32 L256.60 406.32 L256.60 402.28 L257.20 402.28 L257.20 402.62 L257.80 402.62 L257.80 401.18 L258.40 401.18 L258.40 400.55 L259.00 400.55 L259.00 397.15 L259.60 397.15 L259.60 396.25 L260.20 396.25 L260.20 395.60 L260.80 395.60 L260.80 397.16 L261.40 397.16 L261.40 395.30 L262.00 395.30 L262.00 396.25 L262.60 396.25 L262.60 393.20 L263.20 393.20 L263.20 392.60 L263.80 392.60 L263.80 394.30 L264.40 394.30 L264.40 392.57 L265.00 392.57 L265.00 392.97 L265.60 392.97 L265.60 394.78 L266.20 394.78 L266.20 396.93 L266.80 396.93 L266.80 395.26 L267.40 395.26 L267.40 397.25 L268.00 397.25 L268.00 398.88 L268.60 398.88 L268.60 398.52 L269.20 398.52 L269.20 399.47 L269.80 399.47 L269.80 401.10 L270.40 401.10 L270.40 405.27 L271.00 405.27 L271.00 405.10 L271.60 405.10 L271.60 407.10 L272.20 407.10 L272.20 409.10 L272.80 409.10 L272.80 411.54 L273.40 411.54 L273.40 413.51 L274.00 413.51 L274.00 413.10 L274.60 413.10 L274.60 415.21 L275.20 415.21 L275.20 416.53 L275.80 416.53 L275.80 417.10 L276.40 417.10 L276.40 419.60 L277.00 419.60 L277.00 422.20 L277.60 422.20 L277.60 422.18 L278.20 422.18 L278.20 424.60 L278.80 424.60 L278.80 423.42 L279.40 423.42 L279.40 425.11 L280.00 425.11 L280.00 427.15 L280.60 427.15 L280.60 427.81 L281.20 427.81 L281.20 428.28 L281.80 428.28 L281.80 430.16 L282.40 430.16 L282.40 430.66 L283.00 430.66 L283.00 432.94 L283.60 432.94 L283.60 433.43 L284.20 433.43 L284.20 434.66 L284.80 434.66 L284.80 435.99 L285.40 435.99 L285.40 438.67 L286.00 438.67 L286.00 439.00 L286.60 439.00 L286.60 441.93 L287.20 441.93 L287.20 442.62 L287.80 442.62 L287.80 444.25 L288.40 444.25 L288.40 443.87 L289.00 443.87 L289.00 446.16 L289.60 446.16 L289.60 446.81 L290.20 446.81 L290.20 448.07 L290.80 448.07 L290.80 449.16 L291.40 449.16 L291.40 450.20 L292.00 450.20 L292.00 450.91 L292.60 450.91 L292.60 451.70 L293.00 451.70 L293.00 452.00 Z" fill="#5cc064"/>
<path d="M244.00 452.00 L244.00 451.93 L244.60 451.93 L244.60 451.79 L245.20 451.79 L245.20 451.46 L245.80 451.46 L245.80 451.50 L246.40 451.50 L246.40 451.29 L247.00 451.29 L247.00 450.98 L247.60 450.98 L247.60 450.89 L248.20 450.89 L248.20 450.82 L248.80 450.82 L248.80 450.38 L249.40 450.38 L249.40 449.59 L250.00 449.59 L250.00 449.63 L250.60 449.63 L250.60 448.58 L251.20 448.58 L251.20 447.01 L251.80 447.01 L251.80 445.86 L252.40 445.86 L252.40 445.00 L253.00 445.00 L253.00 442.91 L253.60 442.91 L253.60 441.57 L254.20 441.57 L254.20 440.74 L254.80 440.74 L254.80 439.05 L255.40 439.05 L255.40 436.46 L256.00 436.46 L256.00 433.04 L256.60 433.04 L256.60 431.71 L257.20 431.71 L257.20 429.29 L257.80 429.29 L257.80 426.21 L258.40 426.21 L258.40 425.37 L259.00 425.37 L259.00 422.72 L259.60 422.72 L259.60 422.48 L260.20 422.48 L260.20 419.63 L260.80 419.63 L260.80 418.60 L261.40 418.60 L261.40 413.64 L262.00 413.64 L262.00 411.74 L262.60 411.74 L262.60 410.27 L263.20 410.27 L263.20 405.79 L263.80 405.79 L263.80 405.01 L264.40 405.01 L264.40 404.27 L265.00 404.27 L265.00 401.80 L265.60 401.80 L265.60 397.46 L266.20 397.46 L266.20 395.24 L266.80 395.24 L266.80 391.84 L267.40 391.84 L267.40 391.31 L268.00 391.31 L268.00 390.78 L268.60 390.78 L268.60 390.74 L269.20 390.74 L269.20 389.85 L269.80 389.85 L269.80 389.40 L270.40 389.40 L270.40 389.49 L271.00 389.49 L271.00 392.13 L271.60 392.13 L271.60 390.03 L272.20 390.03 L272.20 390.77 L272.80 390.77 L272.80 392.88 L273.40 392.88 L273.40 393.91 L274.00 393.91 L274.00 393.17 L274.60 393.17 L274.60 396.47 L275.20 396.47 L275.20 394.92 L275.80 394.92 L275.80 395.32 L276.40 395.32 L276.40 398.13 L277.00 398.13 L277.00 396.66 L277.60 396.66 L277.60 397.32 L278.20 397.32 L278.20 399.05 L278.80 399.05 L278.80 398.82 L279.40 398.82 L279.40 399.60 L280.00 399.60 L280.00 403.15 L280.60 403.15 L280.60 403.61 L281.20 403.61 L281.20 404.64 L281.80 404.64 L281.80 405.60 L282.40 405.60 L282.40 408.04 L283.00 408.04 L283.00 409.73 L283.60 409.73 L283.60 412.76 L284.20 412.76 L284.20 414.40 L284.80 414.40 L284.80 415.50 L285.40 415.50 L285.40 418.69 L286.00 418.69 L286.00 422.05 L286.60 422.05 L286.60 424.41 L287.20 424.41 L287.20 425.10 L287.80 425.10 L287.80 427.50 L288.40 427.50 L288.40 430.04 L289.00 430.04 L289.00 433.89 L289.60 433.89 L289.60 433.53 L290.20 433.53 L290.20 435.37 L290.80 435.37 L290.80 436.53 L291.40 436.53 L291.40 438.87 L292.00 438.87 L292.00 440.58 L292.60 440.58 L292.60 441.32 L293.20 441.32 L293.20 443.77 L293.80 443.77 L293.80 443.25 L294.40 443.25 L294.40 444.70 L295.00 444.70 L295.00 446.25 L295.60 446.25 L295.60 446.49 L296.20 446.49 L296.20 447.46 L296.80 447.46 L296.80 449.55 L297.40 449.55 L297.40 450.02 L298.00 450.02 L298.00 450.50 L298.60 450.50 L298.60 451.25 L299.20 451.25 L299.20 451.82 L299.50 451.82 L299.50 452.00 Z" fill="#928bd2"/>
<path d="M232.00 452.00 L232.00 451.93 L232.60 451.93 L232.60 451.77 L233.20 451.77 L233.20 451.63 L233.80 451.63 L233.80 451.83 L234.40 451.83 L234.40 451.40 L235.00 451.40 L235.00 451.01 L235.60 451.01 L235.60 451.23 L236.20 451.23 L236.20 450.76 L236.80 450.76 L236.80 450.24 L237.40 450.24 L237.40 449.94 L238.00 449.94 L238.00 449.35 L238.60 449.35 L238.60 449.76 L239.20 449.76 L239.20 448.86 L239.80 448.86 L239.80 448.37 L240.40 448.37 L240.40 447.50 L241.00 447.50 L241.00 446.78 L241.60 446.78 L241.60 447.79 L242.20 447.79 L242.20 445.67 L242.80 445.67 L242.80 446.28 L243.40 446.28 L243.40 444.76 L244.00 444.76 L244.00 444.86 L244.60 444.86 L244.60 442.94 L245.20 442.94 L245.20 441.28 L245.80 441.28 L245.80 440.98 L246.40 440.98 L246.40 439.67 L247.00 439.67 L247.00 438.02 L247.60 438.02 L247.60 437.19 L248.20 437.19 L248.20 436.11 L248.80 436.11 L248.80 433.74 L249.40 433.74 L249.40 431.67 L250.00 431.67 L250.00 430.60 L250.60 430.60 L250.60 427.71 L251.20 427.71 L251.20 427.98 L251.80 427.98 L251.80 424.43 L252.40 424.43 L252.40 423.69 L253.00 423.69 L253.00 421.43 L253.60 421.43 L253.60 418.72 L254.20 418.72 L254.20 415.87 L254.80 415.87 L254.80 411.78 L255.40 411.78 L255.40 410.17 L256.00 410.17 L256.00 406.32 L256.60 406.32 L256.60 402.28 L257.20 402.28 L257.20 402.62 L257.80 402.62 L257.80 401.18 L258.40 401.18 L258.40 400.55 L259.00 400.55 L259.00 397.15 L259.60 397.15 L259.60 396.25 L260.20 396.25 L260.20 395.60 L260.80 395.60 L260.80 397.16 L261.40 397.16 L261.40 395.30 L262.00 395.30 L262.00 396.25 L262.60 396.25 L262.60 393.20 L263.20 393.20 L263.20 392.60 L263.80 392.60 L263.80 394.30 L264.40 394.30 L264.40 392.57 L265.00 392.57 L265.00 392.97 L265.60 392.97 L265.60 394.78 L266.20 394.78 L266.20 396.93 L266.80 396.93 L266.80 395.26 L267.40 395.26 L267.40 397.25 L268.00 397.25 L268.00 398.88 L268.60 398.88 L268.60 398.52 L269.20 398.52 L269.20 399.47 L269.80 399.47 L269.80 401.10 L270.40 401.10 L270.40 405.27 L271.00 405.27 L271.00 405.10 L271.60 405.10 L271.60 407.10 L272.20 407.10 L272.20 409.10 L272.80 409.10 L272.80 411.54 L273.40 411.54 L273.40 413.51 L274.00 413.51 L274.00 413.10 L274.60 413.10 L274.60 415.21 L275.20 415.21 L275.20 416.53 L275.80 416.53 L275.80 417.10 L276.40 417.10 L276.40 419.60 L277.00 419.60 L277.00 422.20 L277.60 422.20 L277.60 422.18 L278.20 422.18 L278.20 424.60 L278.80 424.60 L278.80 423.42 L279.40 423.42 L279.40 425.11 L280.00 425.11 L280.00 427.15 L280.60 427.15 L280.60 427.81 L281.20 427.81 L281.20 428.28 L281.80 428.28 L281.80 430.16 L282.40 430.16 L282.40 430.66 L283.00 430.66 L283.00 432.94 L283.60 432.94 L283.60 433.43 L284.20 433.43 L284.20 434.66 L284.80 434.66 L284.80 435.99 L285.40 435.99 L285.40 438.67 L286.00 438.67 L286.00 439.00 L286.60 439.00 L286.60 441.93 L287.20 441.93 L287.20 442.62 L287.80 442.62 L287.80 444.25 L288.40 444.25 L288.40 443.87 L289.00 443.87 L289.00 446.16 L289.60 446.16 L289.60 446.81 L290.20 446.81 L290.20 448.07 L290.80 448.07 L290.80 449.16 L291.40 449.16 L291.40 450.20 L292.00 450.20 L292.00 450.91 L292.60 450.91 L292.60 451.70 L293.00 451.70 L293.00 452.00 Z" fill="#17965a" clip-path="url(#clipC)"/>
<line x1="210.2" y1="451.6" x2="338.75" y2="451.6" stroke="#aaa" stroke-width="1.1"/>
<line x1="213.2" y1="451.6" x2="213.2" y2="454.6" stroke="#231f20" stroke-width="1.1"/>
<line x1="225.7981053185376" y1="451.6" x2="225.7981053185376" y2="453.40000000000003" stroke="#555" stroke-width="1"/>
<line x1="233.16752451001787" y1="451.6" x2="233.16752451001787" y2="453.40000000000003" stroke="#555" stroke-width="1"/>
<line x1="238.39621063707523" y1="451.6" x2="238.39621063707523" y2="453.40000000000003" stroke="#555" stroke-width="1"/>
<line x1="242.45189468146236" y1="451.6" x2="242.45189468146236" y2="453.40000000000003" stroke="#555" stroke-width="1"/>
<line x1="245.76562982855546" y1="451.6" x2="245.76562982855546" y2="453.40000000000003" stroke="#555" stroke-width="1"/>
<line x1="248.56735297459664" y1="451.6" x2="248.56735297459664" y2="453.40000000000003" stroke="#555" stroke-width="1"/>
<line x1="250.99431595561282" y1="451.6" x2="250.99431595561282" y2="453.40000000000003" stroke="#555" stroke-width="1"/>
<line x1="253.13504902003575" y1="451.6" x2="253.13504902003575" y2="453.40000000000003" stroke="#555" stroke-width="1"/>
<line x1="255.04999999999998" y1="451.6" x2="255.04999999999998" y2="454.6" stroke="#231f20" stroke-width="1.1"/>
<line x1="267.6481053185376" y1="451.6" x2="267.6481053185376" y2="453.40000000000003" stroke="#555" stroke-width="1"/>
<line x1="275.01752451001784" y1="451.6" x2="275.01752451001784" y2="453.40000000000003" stroke="#555" stroke-width="1"/>
<line x1="280.2462106370752" y1="451.6" x2="280.2462106370752" y2="453.40000000000003" stroke="#555" stroke-width="1"/>
<line x1="284.3018946814624" y1="451.6" x2="284.3018946814624" y2="453.40000000000003" stroke="#555" stroke-width="1"/>
<line x1="287.6156298285555" y1="451.6" x2="287.6156298285555" y2="453.40000000000003" stroke="#555" stroke-width="1"/>
<line x1="290.4173529745966" y1="451.6" x2="290.4173529745966" y2="453.40000000000003" stroke="#555" stroke-width="1"/>
<line x1="292.84431595561284" y1="451.6" x2="292.84431595561284" y2="453.40000000000003" stroke="#555" stroke-width="1"/>
<line x1="294.9850490200357" y1="451.6" x2="294.9850490200357" y2="453.40000000000003" stroke="#555" stroke-width="1"/>
<line x1="296.9" y1="451.6" x2="296.9" y2="454.6" stroke="#231f20" stroke-width="1.1"/>
<line x1="309.49810531853757" y1="451.6" x2="309.49810531853757" y2="453.40000000000003" stroke="#555" stroke-width="1"/>
<line x1="316.86752451001786" y1="451.6" x2="316.86752451001786" y2="453.40000000000003" stroke="#555" stroke-width="1"/>
<line x1="322.0962106370752" y1="451.6" x2="322.0962106370752" y2="453.40000000000003" stroke="#555" stroke-width="1"/>
<line x1="326.15189468146235" y1="451.6" x2="326.15189468146235" y2="453.40000000000003" stroke="#555" stroke-width="1"/>
<line x1="329.46562982855545" y1="451.6" x2="329.46562982855545" y2="453.40000000000003" stroke="#555" stroke-width="1"/>
<line x1="332.26735297459663" y1="451.6" x2="332.26735297459663" y2="453.40000000000003" stroke="#555" stroke-width="1"/>
<line x1="334.6943159556128" y1="451.6" x2="334.6943159556128" y2="453.40000000000003" stroke="#555" stroke-width="1"/>
<line x1="336.83504902003574" y1="451.6" x2="336.83504902003574" y2="453.40000000000003" stroke="#555" stroke-width="1"/>
<line x1="338.75" y1="451.6" x2="338.75" y2="454.6" stroke="#231f20" stroke-width="1.1"/>
<text x="208.6" y="467" font-size="11.2" text-anchor="start" class="h1"><tspan class="o1">1</tspan>0</text>
<text x="221.3" y="462.7" font-size="5.8" text-anchor="start">0</text>
<text x="244.6" y="467" font-size="11.2" text-anchor="start" class="h1"><tspan class="o1">1</tspan>0</text>
<text x="257.3" y="462.7" font-size="5.8" text-anchor="start" class="h1"><tspan class="o1">1</tspan></text>
<text x="280.8" y="467" font-size="11.2" text-anchor="start" class="h1"><tspan class="o1">1</tspan>0</text>
<text x="293.5" y="462.7" font-size="5.8" text-anchor="start">2</text>
<text x="317.0" y="467" font-size="11.2" text-anchor="start" class="h1"><tspan class="o1">1</tspan>0</text>
<text x="329.7" y="462.7" font-size="5.8" text-anchor="start">3</text>
<text x="218.0" y="482.9" font-size="11.2" text-anchor="start">Fluorescence intensity</text>
<text x="188.6" y="444.0" font-size="11.4" text-anchor="start" transform="rotate(-90 188.6 444.0)">OCI-AML3 cell counts</text>
<rect x="249.5" y="306.3" width="7.4" height="7.4" fill="#8cc63f" stroke="#4b7a22" stroke-width="1"/>
<rect x="249.5" y="320.3" width="7.4" height="7.4" fill="#5e70b8" stroke="#2c3a78" stroke-width="1"/>
<text x="263.8" y="313.1" font-size="11.2" text-anchor="start">Control</text>
<text x="263.8" y="327.1" font-size="11.2" text-anchor="start" class="h1">anti-NRP-<tspan class="o1">1</tspan></text>
<text x="353.2" y="299.1" font-size="17" text-anchor="start" font-weight="bold">D</text>
<line x1="393.0" y1="323.7" x2="393.0" y2="454.6" stroke="#8a8a8a" stroke-width="1"/>
<line x1="390.0" y1="451.6" x2="393.0" y2="451.6" stroke="#231f20" stroke-width="1.1"/>
<text x="387.8" y="455.0" font-size="11.2" text-anchor="end">0</text>
<line x1="390.0" y1="419.625" x2="393.0" y2="419.625" stroke="#231f20" stroke-width="1.1"/>
<text x="387.8" y="423.025" font-size="11.2" text-anchor="end">20</text>
<line x1="390.0" y1="387.65" x2="393.0" y2="387.65" stroke="#231f20" stroke-width="1.1"/>
<text x="387.8" y="391.04999999999995" font-size="11.2" text-anchor="end">40</text>
<line x1="390.0" y1="355.675" x2="393.0" y2="355.675" stroke="#231f20" stroke-width="1.1"/>
<text x="387.8" y="359.075" font-size="11.2" text-anchor="end">60</text>
<line x1="390.0" y1="323.7" x2="393.0" y2="323.7" stroke="#231f20" stroke-width="1.1"/>
<text x="387.8" y="327.09999999999997" font-size="11.2" text-anchor="end">80</text>
<line x1="392.2" y1="445.20500000000004" x2="394.2" y2="445.20500000000004" stroke="#555" stroke-width="1.1"/>
<line x1="392.2" y1="438.81" x2="394.2" y2="438.81" stroke="#555" stroke-width="1.1"/>
<line x1="392.2" y1="432.415" x2="394.2" y2="432.415" stroke="#555" stroke-width="1.1"/>
<line x1="392.2" y1="426.02000000000004" x2="394.2" y2="426.02000000000004" stroke="#555" stroke-width="1.1"/>
<line x1="392.2" y1="413.23" x2="394.2" y2="413.23" stroke="#555" stroke-width="1.1"/>
<line x1="392.2" y1="406.83500000000004" x2="394.2" y2="406.83500000000004" stroke="#555" stroke-width="1.1"/>
<line x1="392.2" y1="400.44" x2="394.2" y2="400.44" stroke="#555" stroke-width="1.1"/>
<line x1="392.2" y1="394.045" x2="394.2" y2="394.045" stroke="#555" stroke-width="1.1"/>
<line x1="392.2" y1="381.255" x2="394.2" y2="381.255" stroke="#555" stroke-width="1.1"/>
<line x1="392.2" y1="374.86" x2="394.2" y2="374.86" stroke="#555" stroke-width="1.1"/>
<line x1="392.2" y1="368.46500000000003" x2="394.2" y2="368.46500000000003" stroke="#555" stroke-width="1.1"/>
<line x1="392.2" y1="362.07" x2="394.2" y2="362.07" stroke="#555" stroke-width="1.1"/>
<line x1="392.2" y1="349.28" x2="394.2" y2="349.28" stroke="#555" stroke-width="1.1"/>
<line x1="392.2" y1="342.885" x2="394.2" y2="342.885" stroke="#555" stroke-width="1.1"/>
<line x1="392.2" y1="336.49" x2="394.2" y2="336.49" stroke="#555" stroke-width="1.1"/>
<line x1="392.2" y1="330.095" x2="394.2" y2="330.095" stroke="#555" stroke-width="1.1"/>
<clipPath id="clipD"><path d="M424.00 452.00 L424.00 451.70 L424.60 451.70 L424.60 451.30 L425.20 451.30 L425.20 450.46 L425.80 450.46 L425.80 449.78 L426.40 449.78 L426.40 448.78 L427.00 448.78 L427.00 448.11 L427.60 448.11 L427.60 447.62 L428.20 447.62 L428.20 446.53 L428.80 446.53 L428.80 445.89 L429.40 445.89 L429.40 445.28 L430.00 445.28 L430.00 444.37 L430.60 444.37 L430.60 443.33 L431.20 443.33 L431.20 441.61 L431.80 441.61 L431.80 441.44 L432.40 441.44 L432.40 439.83 L433.00 439.83 L433.00 437.71 L433.60 437.71 L433.60 437.05 L434.20 437.05 L434.20 434.62 L434.80 434.62 L434.80 434.17 L435.40 434.17 L435.40 431.42 L436.00 431.42 L436.00 429.20 L436.60 429.20 L436.60 428.55 L437.20 428.55 L437.20 428.44 L437.80 428.44 L437.80 427.96 L438.40 427.96 L438.40 428.38 L439.00 428.38 L439.00 421.10 L439.60 421.10 L439.60 411.41 L440.20 411.41 L440.20 406.60 L440.80 406.60 L440.80 405.59 L441.40 405.59 L441.40 401.74 L442.00 401.74 L442.00 401.10 L442.60 401.10 L442.60 397.60 L443.20 397.60 L443.20 396.60 L443.80 396.60 L443.80 398.10 L444.40 398.10 L444.40 395.57 L445.00 395.57 L445.00 393.61 L445.60 393.61 L445.60 395.02 L446.20 395.02 L446.20 393.97 L446.80 393.97 L446.80 392.89 L447.40 392.89 L447.40 391.69 L448.00 391.69 L448.00 392.55 L448.60 392.55 L448.60 391.81 L449.20 391.81 L449.20 394.66 L449.80 394.66 L449.80 397.16 L450.40 397.16 L450.40 400.43 L451.00 400.43 L451.00 404.43 L451.60 404.43 L451.60 408.43 L452.20 408.43 L452.20 414.47 L452.80 414.47 L452.80 417.14 L453.40 417.14 L453.40 420.53 L454.00 420.53 L454.00 421.86 L454.60 421.86 L454.60 422.19 L455.20 422.19 L455.20 423.44 L455.80 423.44 L455.80 424.32 L456.40 424.32 L456.40 428.10 L457.00 428.10 L457.00 429.74 L457.60 429.74 L457.60 430.69 L458.20 430.69 L458.20 432.82 L458.80 432.82 L458.80 434.90 L459.40 434.90 L459.40 436.36 L460.00 436.36 L460.00 438.41 L460.60 438.41 L460.60 439.03 L461.20 439.03 L461.20 440.84 L461.80 440.84 L461.80 442.68 L462.40 442.68 L462.40 444.55 L463.00 444.55 L463.00 445.46 L463.60 445.46 L463.60 447.33 L464.20 447.33 L464.20 447.31 L464.80 447.31 L464.80 447.67 L465.40 447.67 L465.40 448.96 L466.00 448.96 L466.00 449.15 L466.60 449.15 L466.60 449.94 L467.20 449.94 L467.20 451.02 L467.80 451.02 L467.80 451.21 L468.40 451.21 L468.40 451.48 L469.00 451.48 L469.00 451.65 L469.60 451.65 L469.60 451.91 L470.00 451.91 L470.00 452.00 Z"/></clipPath>
<path d="M407.00 452.00 L407.00 451.85 L407.60 451.85 L407.60 451.60 L408.20 451.60 L408.20 451.40 L408.80 451.40 L408.80 450.56 L409.40 450.56 L409.40 450.43 L410.00 450.43 L410.00 450.63 L410.60 450.63 L410.60 450.39 L411.20 450.39 L411.20 449.02 L411.80 449.02 L411.80 448.59 L412.40 448.59 L412.40 447.67 L413.00 447.67 L413.00 447.40 L413.60 447.40 L413.60 447.45 L414.20 447.45 L414.20 446.39 L414.80 446.39 L414.80 446.86 L415.40 446.86 L415.40 445.65 L416.00 445.65 L416.00 444.60 L416.60 444.60 L416.60 443.44 L417.20 443.44 L417.20 443.25 L417.80 443.25 L417.80 442.07 L418.40 442.07 L418.40 440.87 L419.00 440.87 L419.00 440.05 L419.60 440.05 L419.60 438.59 L420.20 438.59 L420.20 437.36 L420.80 437.36 L420.80 436.23 L421.40 436.23 L421.40 433.91 L422.00 433.91 L422.00 432.96 L422.60 432.96 L422.60 432.17 L423.20 432.17 L423.20 430.53 L423.80 430.53 L423.80 427.00 L424.40 427.00 L424.40 424.10 L425.00 424.10 L425.00 420.84 L425.60 420.84 L425.60 416.00 L426.20 416.00 L426.20 409.79 L426.80 409.79 L426.80 404.17 L427.40 404.17 L427.40 400.27 L428.00 400.27 L428.00 394.09 L428.60 394.09 L428.60 389.77 L429.20 389.77 L429.20 385.87 L429.80 385.87 L429.80 383.26 L430.40 383.26 L430.40 382.16 L431.00 382.16 L431.00 384.12 L431.60 384.12 L431.60 384.12 L432.20 384.12 L432.20 382.55 L432.80 382.55 L432.80 384.20 L433.40 384.20 L433.40 382.07 L434.00 382.07 L434.00 379.10 L434.60 379.10 L434.60 380.35 L435.20 380.35 L435.20 384.25 L435.80 384.25 L435.80 383.27 L436.40 383.27 L436.40 391.65 L437.00 391.65 L437.00 399.38 L437.60 399.38 L437.60 408.91 L438.20 408.91 L438.20 419.47 L438.80 419.47 L438.80 427.31 L439.40 427.31 L439.40 429.10 L440.00 429.10 L440.00 429.77 L440.60 429.77 L440.60 431.43 L441.20 431.43 L441.20 433.35 L441.80 433.35 L441.80 434.22 L442.40 434.22 L442.40 435.10 L443.00 435.10 L443.00 436.66 L443.60 436.66 L443.60 437.99 L444.20 437.99 L444.20 440.68 L444.80 440.68 L444.80 441.29 L445.40 441.29 L445.40 441.99 L446.00 441.99 L446.00 443.75 L446.60 443.75 L446.60 444.28 L447.20 444.28 L447.20 445.35 L447.80 445.35 L447.80 445.99 L448.40 445.99 L448.40 447.21 L449.00 447.21 L449.00 446.98 L449.60 446.98 L449.60 448.21 L450.20 448.21 L450.20 449.44 L450.80 449.44 L450.80 450.04 L451.40 450.04 L451.40 449.89 L452.00 449.89 L452.00 450.93 L452.60 450.93 L452.60 451.13 L453.20 451.13 L453.20 451.56 L453.80 451.56 L453.80 451.93 L454.00 451.93 L454.00 452.00 Z" fill="#5cbf64"/>
<path d="M424.00 452.00 L424.00 451.70 L424.60 451.70 L424.60 451.30 L425.20 451.30 L425.20 450.46 L425.80 450.46 L425.80 449.78 L426.40 449.78 L426.40 448.78 L427.00 448.78 L427.00 448.11 L427.60 448.11 L427.60 447.62 L428.20 447.62 L428.20 446.53 L428.80 446.53 L428.80 445.89 L429.40 445.89 L429.40 445.28 L430.00 445.28 L430.00 444.37 L430.60 444.37 L430.60 443.33 L431.20 443.33 L431.20 441.61 L431.80 441.61 L431.80 441.44 L432.40 441.44 L432.40 439.83 L433.00 439.83 L433.00 437.71 L433.60 437.71 L433.60 437.05 L434.20 437.05 L434.20 434.62 L434.80 434.62 L434.80 434.17 L435.40 434.17 L435.40 431.42 L436.00 431.42 L436.00 429.20 L436.60 429.20 L436.60 428.55 L437.20 428.55 L437.20 428.44 L437.80 428.44 L437.80 427.96 L438.40 427.96 L438.40 428.38 L439.00 428.38 L439.00 421.10 L439.60 421.10 L439.60 411.41 L440.20 411.41 L440.20 406.60 L440.80 406.60 L440.80 405.59 L441.40 405.59 L441.40 401.74 L442.00 401.74 L442.00 401.10 L442.60 401.10 L442.60 397.60 L443.20 397.60 L443.20 396.60 L443.80 396.60 L443.80 398.10 L444.40 398.10 L444.40 395.57 L445.00 395.57 L445.00 393.61 L445.60 393.61 L445.60 395.02 L446.20 395.02 L446.20 393.97 L446.80 393.97 L446.80 392.89 L447.40 392.89 L447.40 391.69 L448.00 391.69 L448.00 392.55 L448.60 392.55 L448.60 391.81 L449.20 391.81 L449.20 394.66 L449.80 394.66 L449.80 397.16 L450.40 397.16 L450.40 400.43 L451.00 400.43 L451.00 404.43 L451.60 404.43 L451.60 408.43 L452.20 408.43 L452.20 414.47 L452.80 414.47 L452.80 417.14 L453.40 417.14 L453.40 420.53 L454.00 420.53 L454.00 421.86 L454.60 421.86 L454.60 422.19 L455.20 422.19 L455.20 423.44 L455.80 423.44 L455.80 424.32 L456.40 424.32 L456.40 428.10 L457.00 428.10 L457.00 429.74 L457.60 429.74 L457.60 430.69 L458.20 430.69 L458.20 432.82 L458.80 432.82 L458.80 434.90 L459.40 434.90 L459.40 436.36 L460.00 436.36 L460.00 438.41 L460.60 438.41 L460.60 439.03 L461.20 439.03 L461.20 440.84 L461.80 440.84 L461.80 442.68 L462.40 442.68 L462.40 444.55 L463.00 444.55 L463.00 445.46 L463.60 445.46 L463.60 447.33 L464.20 447.33 L464.20 447.31 L464.80 447.31 L464.80 447.67 L465.40 447.67 L465.40 448.96 L466.00 448.96 L466.00 449.15 L466.60 449.15 L466.60 449.94 L467.20 449.94 L467.20 451.02 L467.80 451.02 L467.80 451.21 L468.40 451.21 L468.40 451.48 L469.00 451.48 L469.00 451.65 L469.60 451.65 L469.60 451.91 L470.00 451.91 L470.00 452.00 Z" fill="#8c87cd"/>
<path d="M407.00 452.00 L407.00 451.85 L407.60 451.85 L407.60 451.60 L408.20 451.60 L408.20 451.40 L408.80 451.40 L408.80 450.56 L409.40 450.56 L409.40 450.43 L410.00 450.43 L410.00 450.63 L410.60 450.63 L410.60 450.39 L411.20 450.39 L411.20 449.02 L411.80 449.02 L411.80 448.59 L412.40 448.59 L412.40 447.67 L413.00 447.67 L413.00 447.40 L413.60 447.40 L413.60 447.45 L414.20 447.45 L414.20 446.39 L414.80 446.39 L414.80 446.86 L415.40 446.86 L415.40 445.65 L416.00 445.65 L416.00 444.60 L416.60 444.60 L416.60 443.44 L417.20 443.44 L417.20 443.25 L417.80 443.25 L417.80 442.07 L418.40 442.07 L418.40 440.87 L419.00 440.87 L419.00 440.05 L419.60 440.05 L419.60 438.59 L420.20 438.59 L420.20 437.36 L420.80 437.36 L420.80 436.23 L421.40 436.23 L421.40 433.91 L422.00 433.91 L422.00 432.96 L422.60 432.96 L422.60 432.17 L423.20 432.17 L423.20 430.53 L423.80 430.53 L423.80 427.00 L424.40 427.00 L424.40 424.10 L425.00 424.10 L425.00 420.84 L425.60 420.84 L425.60 416.00 L426.20 416.00 L426.20 409.79 L426.80 409.79 L426.80 404.17 L427.40 404.17 L427.40 400.27 L428.00 400.27 L428.00 394.09 L428.60 394.09 L428.60 389.77 L429.20 389.77 L429.20 385.87 L429.80 385.87 L429.80 383.26 L430.40 383.26 L430.40 382.16 L431.00 382.16 L431.00 384.12 L431.60 384.12 L431.60 384.12 L432.20 384.12 L432.20 382.55 L432.80 382.55 L432.80 384.20 L433.40 384.20 L433.40 382.07 L434.00 382.07 L434.00 379.10 L434.60 379.10 L434.60 380.35 L435.20 380.35 L435.20 384.25 L435.80 384.25 L435.80 383.27 L436.40 383.27 L436.40 391.65 L437.00 391.65 L437.00 399.38 L437.60 399.38 L437.60 408.91 L438.20 408.91 L438.20 419.47 L438.80 419.47 L438.80 427.31 L439.40 427.31 L439.40 429.10 L440.00 429.10 L440.00 429.77 L440.60 429.77 L440.60 431.43 L441.20 431.43 L441.20 433.35 L441.80 433.35 L441.80 434.22 L442.40 434.22 L442.40 435.10 L443.00 435.10 L443.00 436.66 L443.60 436.66 L443.60 437.99 L444.20 437.99 L444.20 440.68 L444.80 440.68 L444.80 441.29 L445.40 441.29 L445.40 441.99 L446.00 441.99 L446.00 443.75 L446.60 443.75 L446.60 444.28 L447.20 444.28 L447.20 445.35 L447.80 445.35 L447.80 445.99 L448.40 445.99 L448.40 447.21 L449.00 447.21 L449.00 446.98 L449.60 446.98 L449.60 448.21 L450.20 448.21 L450.20 449.44 L450.80 449.44 L450.80 450.04 L451.40 450.04 L451.40 449.89 L452.00 449.89 L452.00 450.93 L452.60 450.93 L452.60 451.13 L453.20 451.13 L453.20 451.56 L453.80 451.56 L453.80 451.93 L454.00 451.93 L454.00 452.00 Z" fill="#19965a" clip-path="url(#clipD)"/>
<line x1="390.0" y1="451.6" x2="518.55" y2="451.6" stroke="#aaa" stroke-width="1.1"/>
<line x1="393.0" y1="451.6" x2="393.0" y2="454.6" stroke="#231f20" stroke-width="1.1"/>
<line x1="405.5981053185376" y1="451.6" x2="405.5981053185376" y2="453.40000000000003" stroke="#555" stroke-width="1"/>
<line x1="412.9675245100179" y1="451.6" x2="412.9675245100179" y2="453.40000000000003" stroke="#555" stroke-width="1"/>
<line x1="418.19621063707524" y1="451.6" x2="418.19621063707524" y2="453.40000000000003" stroke="#555" stroke-width="1"/>
<line x1="422.2518946814624" y1="451.6" x2="422.2518946814624" y2="453.40000000000003" stroke="#555" stroke-width="1"/>
<line x1="425.5656298285555" y1="451.6" x2="425.5656298285555" y2="453.40000000000003" stroke="#555" stroke-width="1"/>
<line x1="428.36735297459666" y1="451.6" x2="428.36735297459666" y2="453.40000000000003" stroke="#555" stroke-width="1"/>
<line x1="430.79431595561283" y1="451.6" x2="430.79431595561283" y2="453.40000000000003" stroke="#555" stroke-width="1"/>
<line x1="432.93504902003576" y1="451.6" x2="432.93504902003576" y2="453.40000000000003" stroke="#555" stroke-width="1"/>
<line x1="434.85" y1="451.6" x2="434.85" y2="454.6" stroke="#231f20" stroke-width="1.1"/>
<line x1="447.4481053185376" y1="451.6" x2="447.4481053185376" y2="453.40000000000003" stroke="#555" stroke-width="1"/>
<line x1="454.8175245100179" y1="451.6" x2="454.8175245100179" y2="453.40000000000003" stroke="#555" stroke-width="1"/>
<line x1="460.04621063707526" y1="451.6" x2="460.04621063707526" y2="453.40000000000003" stroke="#555" stroke-width="1"/>
<line x1="464.1018946814624" y1="451.6" x2="464.1018946814624" y2="453.40000000000003" stroke="#555" stroke-width="1"/>
<line x1="467.4156298285555" y1="451.6" x2="467.4156298285555" y2="453.40000000000003" stroke="#555" stroke-width="1"/>
<line x1="470.2173529745967" y1="451.6" x2="470.2173529745967" y2="453.40000000000003" stroke="#555" stroke-width="1"/>
<line x1="472.64431595561285" y1="451.6" x2="472.64431595561285" y2="453.40000000000003" stroke="#555" stroke-width="1"/>
<line x1="474.7850490200358" y1="451.6" x2="474.7850490200358" y2="453.40000000000003" stroke="#555" stroke-width="1"/>
<line x1="476.7" y1="451.6" x2="476.7" y2="454.6" stroke="#231f20" stroke-width="1.1"/>
<line x1="489.2981053185376" y1="451.6" x2="489.2981053185376" y2="453.40000000000003" stroke="#555" stroke-width="1"/>
<line x1="496.66752451001787" y1="451.6" x2="496.66752451001787" y2="453.40000000000003" stroke="#555" stroke-width="1"/>
<line x1="501.8962106370752" y1="451.6" x2="501.8962106370752" y2="453.40000000000003" stroke="#555" stroke-width="1"/>
<line x1="505.95189468146236" y1="451.6" x2="505.95189468146236" y2="453.40000000000003" stroke="#555" stroke-width="1"/>
<line x1="509.26562982855546" y1="451.6" x2="509.26562982855546" y2="453.40000000000003" stroke="#555" stroke-width="1"/>
<line x1="512.0673529745966" y1="451.6" x2="512.0673529745966" y2="453.40000000000003" stroke="#555" stroke-width="1"/>
<line x1="514.4943159556128" y1="451.6" x2="514.4943159556128" y2="453.40000000000003" stroke="#555" stroke-width="1"/>
<line x1="516.6350490200357" y1="451.6" x2="516.6350490200357" y2="453.40000000000003" stroke="#555" stroke-width="1"/>
<line x1="518.55" y1="451.6" x2="518.55" y2="454.6" stroke="#231f20" stroke-width="1.1"/>
<text x="385.8" y="467" font-size="11.2" text-anchor="start" class="h1"><tspan class="o1">1</tspan>0</text>
<text x="398.5" y="462.7" font-size="5.8" text-anchor="start">0</text>
<text x="422.0" y="467" font-size="11.2" text-anchor="start" class="h1"><tspan class="o1">1</tspan>0</text>
<text x="434.7" y="462.7" font-size="5.8" text-anchor="start" class="h1"><tspan class="o1">1</tspan></text>
<text x="458.2" y="467" font-size="11.2" text-anchor="start" class="h1"><tspan class="o1">1</tspan>0</text>
<text x="470.9" y="462.7" font-size="5.8" text-anchor="start">2</text>
<text x="494.4" y="467" font-size="11.2" text-anchor="start" class="h1"><tspan class="o1">1</tspan>0</text>
<text x="507.09999999999997" y="462.7" font-size="5.8" text-anchor="start">3</text>
<text x="391.8" y="482.9" font-size="11.2" text-anchor="start">Fluorescence intensity</text>
<text x="367.9" y="439.6" font-size="11.3" text-anchor="start" transform="rotate(-90 367.9 439.6)">MOLT-4 cell counts</text>
<rect x="424.5" y="307.5" width="7.4" height="7.4" fill="#8cc63f" stroke="#4b7a22" stroke-width="1"/>
<rect x="424.5" y="321.5" width="7.4" height="7.4" fill="#5e70b8" stroke="#2c3a78" stroke-width="1"/>
<text x="438.8" y="314.3" font-size="11.2" text-anchor="start">Control</text>
<text x="438.8" y="328.3" font-size="11.2" text-anchor="start" class="h1">anti-NRP-<tspan class="o1">1</tspan></text>
<path d="M49.55 163.08 L49.55 156.32 L47.81 157.56 L47.81 156.63 L49.63 155.38 L50.54 155.38 L50.54 163.08Z" fill="#231f20" stroke="#231f20" stroke-width="0.22"/>
<path d="M103.67 70.60 L103.67 63.84 L101.93 65.08 L101.93 64.15 L103.75 62.89 L104.66 62.89 L104.66 70.60Z" fill="#231f20" stroke="#231f20" stroke-width="0.22"/>
<path d="M118.58 86.70 L118.58 79.94 L116.84 81.18 L116.84 80.25 L118.66 78.99 L119.57 78.99 L119.57 86.70Z" fill="#231f20" stroke="#231f20" stroke-width="0.22"/>
<path d="M294.25 49.80 L294.25 43.04 L292.51 44.28 L292.51 43.35 L294.33 42.09 L295.24 42.09 L295.24 49.80Z" fill="#231f20" stroke="#231f20" stroke-width="0.22"/>
<path d="M461.18 191.60 L461.18 184.84 L459.44 186.08 L459.44 185.15 L461.26 183.89 L462.17 183.89 L462.17 191.60Z" transform="rotate(-90 464.6 191.6)" fill="#231f20" stroke="#231f20" stroke-width="0.22"/>
<path d="M28.62 467.00 L28.62 460.24 L26.88 461.48 L26.88 460.55 L28.70 459.29 L29.61 459.29 L29.61 467.00Z" fill="#231f20" stroke="#231f20" stroke-width="0.22"/>
<path d="M66.32 467.00 L66.32 460.24 L64.58 461.48 L64.58 460.55 L66.40 459.29 L67.31 459.29 L67.31 467.00Z" fill="#231f20" stroke="#231f20" stroke-width="0.22"/>
<path d="M77.66 462.70 L77.66 459.20 L76.76 459.84 L76.76 459.36 L77.70 458.71 L78.17 458.71 L78.17 462.70Z" fill="#231f20" stroke="#231f20" stroke-width="0.22"/>
<path d="M101.92 467.00 L101.92 460.24 L100.18 461.48 L100.18 460.55 L102.00 459.29 L102.91 459.29 L102.91 467.00Z" fill="#231f20" stroke="#231f20" stroke-width="0.22"/>
<path d="M137.82 467.00 L137.82 460.24 L136.08 461.48 L136.08 460.55 L137.90 459.29 L138.81 459.29 L138.81 467.00Z" fill="#231f20" stroke="#231f20" stroke-width="0.22"/>
<path d="M154.73 327.10 L154.73 320.34 L152.99 321.58 L152.99 320.65 L154.81 319.39 L155.72 319.39 L155.72 327.10Z" fill="#231f20" stroke="#231f20" stroke-width="0.22"/>
<path d="M211.42 467.00 L211.42 460.24 L209.68 461.48 L209.68 460.55 L211.50 459.29 L212.41 459.29 L212.41 467.00Z" fill="#231f20" stroke="#231f20" stroke-width="0.22"/>
<path d="M247.42 467.00 L247.42 460.24 L245.68 461.48 L245.68 460.55 L247.50 459.29 L248.41 459.29 L248.41 467.00Z" fill="#231f20" stroke="#231f20" stroke-width="0.22"/>
<path d="M258.76 462.70 L258.76 459.20 L257.86 459.84 L257.86 459.36 L258.80 458.71 L259.27 458.71 L259.27 462.70Z" fill="#231f20" stroke="#231f20" stroke-width="0.22"/>
<path d="M283.62 467.00 L283.62 460.24 L281.88 461.48 L281.88 460.55 L283.70 459.29 L284.61 459.29 L284.61 467.00Z" fill="#231f20" stroke="#231f20" stroke-width="0.22"/>
<path d="M319.82 467.00 L319.82 460.24 L318.08 461.48 L318.08 460.55 L319.90 459.29 L320.81 459.29 L320.81 467.00Z" fill="#231f20" stroke="#231f20" stroke-width="0.22"/>
<path d="M315.73 327.10 L315.73 320.34 L313.99 321.58 L313.99 320.65 L315.81 319.39 L316.72 319.39 L316.72 327.10Z" fill="#231f20" stroke="#231f20" stroke-width="0.22"/>
<path d="M388.62 467.00 L388.62 460.24 L386.88 461.48 L386.88 460.55 L388.70 459.29 L389.61 459.29 L389.61 467.00Z" fill="#231f20" stroke="#231f20" stroke-width="0.22"/>
<path d="M424.82 467.00 L424.82 460.24 L423.08 461.48 L423.08 460.55 L424.90 459.29 L425.81 459.29 L425.81 467.00Z" fill="#231f20" stroke="#231f20" stroke-width="0.22"/>
<path d="M436.16 462.70 L436.16 459.20 L435.26 459.84 L435.26 459.36 L436.20 458.71 L436.67 458.71 L436.67 462.70Z" fill="#231f20" stroke="#231f20" stroke-width="0.22"/>
<path d="M461.02 467.00 L461.02 460.24 L459.28 461.48 L459.28 460.55 L461.10 459.29 L462.01 459.29 L462.01 467.00Z" fill="#231f20" stroke="#231f20" stroke-width="0.22"/>
<path d="M497.22 467.00 L497.22 460.24 L495.48 461.48 L495.48 460.55 L497.30 459.29 L498.21 459.29 L498.21 467.00Z" fill="#231f20" stroke="#231f20" stroke-width="0.22"/>
<path d="M490.73 328.30 L490.73 321.54 L488.99 322.78 L488.99 321.85 L490.81 320.59 L491.72 320.59 L491.72 328.30Z" fill="#231f20" stroke="#231f20" stroke-width="0.22"/>
</svg>
</body></html>
